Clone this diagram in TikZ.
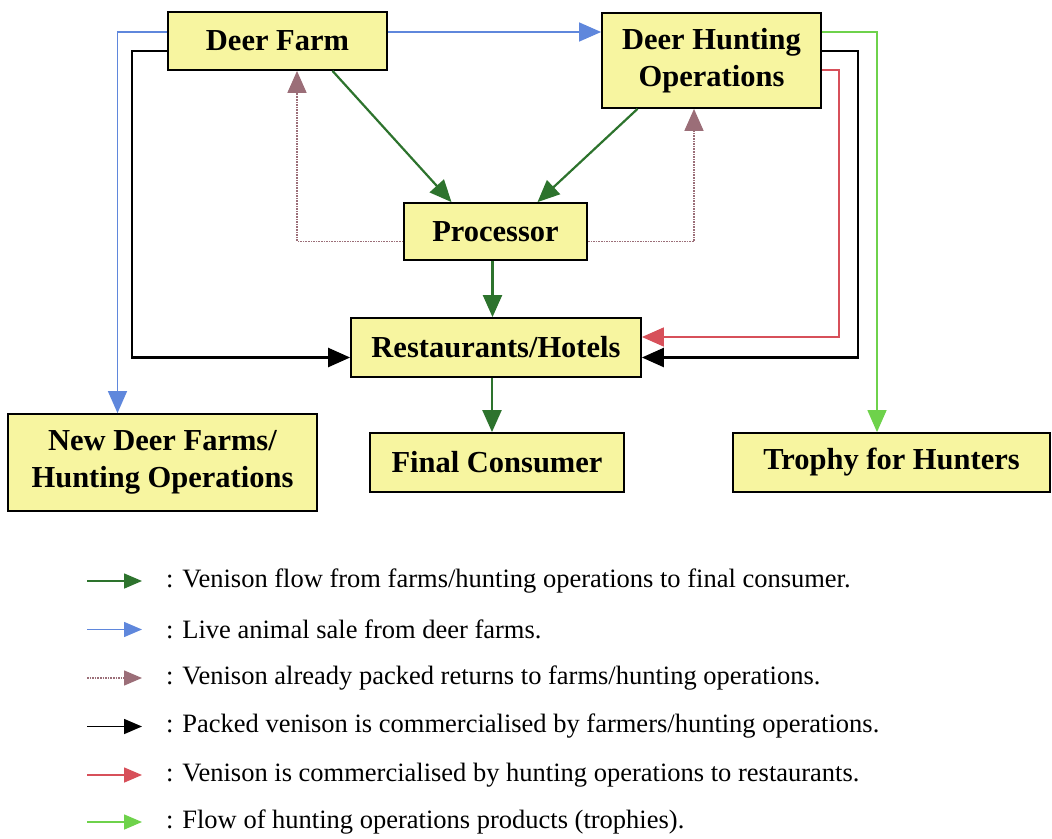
\documentclass[tikz,border=0pt]{standalone}
\usepackage{fontspec}
\setmainfont{Liberation Serif}
\usetikzlibrary{arrows.meta}

\definecolor{boxyellow}{RGB}{247,245,160}
\definecolor{meatgreen}{RGB}{45,115,45}
\definecolor{liveblue}{RGB}{95,135,220}
\definecolor{returnmauve}{RGB}{155,110,120}
\definecolor{salered}{RGB}{215,80,90}
\definecolor{trophygreen}{RGB}{110,210,75}

\tikzset{
  stage/.style={draw,line width=1.8pt,fill=boxyellow,align=center,inner sep=0pt,
    font=\fontsize{30.5}{37}\selectfont\bfseries},
  venison/.style={->,meatgreen,line width=2.2pt},
  live/.style={->,liveblue,line width=1.4pt},
  packback/.style={->,returnmauve,line width=1.6pt,densely dotted},
  packed/.style={->,black,line width=2.4pt},
  torest/.style={->,salered,line width=1.6pt},
  trophy/.style={->,trophygreen,line width=1.4pt},
  legend/.style={anchor=west,inner sep=0pt,font=\fontsize{26.5}{30}\selectfont},
}

\begin{document}
\begin{tikzpicture}[x=1pt,y=-1pt,>={Triangle[length=22pt,width=19pt]},line cap=butt]
\useasboundingbox (0,0) rectangle (1052,838);

% the chain
\node[stage,minimum width=219pt,minimum height=58pt] (farm) at (277.5,41) {Deer Farm};
\node[stage,minimum width=219pt,minimum height=95pt] (hunt) at (711.5,60.5) {Deer Hunting\\Operations};
\node[stage,minimum width=183pt,minimum height=57pt] (proc) at (495.5,231.5) {Processor};
\node[stage,minimum width=290pt,minimum height=59pt] (rest) at (496,347.5) {Restaurants/Hotels};
\node[stage,minimum width=309pt,minimum height=97pt] (newfarm) at (162.5,462.5) {New Deer Farms/\\Hunting Operations};
\node[stage,minimum width=254pt,minimum height=59pt] (final) at (497,462.5) {Final Consumer};
\node[stage,minimum width=317pt,minimum height=59pt] (hunters) at (891.5,462.5) {Trophy for Hunters};

% live animals
\draw[live] ([yshift=9pt]farm.west) -| ([xshift=-45pt]newfarm.north);
\draw[live] ([yshift=9pt]farm.east) -- ([yshift=9pt]farm.east -| hunt.west);

% meat to the processor and on
\draw[venison] ([xshift=55pt]farm.south) -- ([xshift=-44pt]proc.north);
\draw[venison] ([xshift=-74pt]hunt.south) -- ([xshift=42pt]proc.north);
\draw[venison] ([xshift=-3pt]proc.south) -- ([xshift=-3pt]proc.south |- rest.north);
\draw[venison] ([xshift=-4pt]rest.south) -- ([xshift=-4pt]rest.south |- final.north);

% packed venison back to the owners
\draw[packback] ([yshift=-10pt]proc.west) -| ([xshift=19.5pt]farm.south);
\draw[packback] ([yshift=-10pt]proc.east) -| ([xshift=-17.5pt]hunt.south);

% packed venison sold on
\draw[packed] ([yshift=-10pt]farm.west) -- ++(-35pt,0) |- ([yshift=-10pt]rest.west);
\draw[packed] ([yshift=9.5pt]hunt.east) -- ++(36pt,0) |- ([yshift=-10pt]rest.east);
\draw[torest] ([yshift=-9.5pt]hunt.east) -- ++(17pt,0) |- ([yshift=10.5pt]rest.east);

% trophies
\draw[trophy] ([yshift=28.5pt]hunt.east) -| ([xshift=-14.5pt]hunters.north);

% legend
\begin{scope}[>={Triangle[length=18pt,width=15pt]}]
\node[legend] (l1) at (166,581) {: Venison flow from farms/hunting operations to final consumer.};
\node[legend] (l2) at (166,629.5) {: Live animal sale from deer farms.};
\node[legend] (l3) at (166,678) {: Venison already packed returns to farms/hunting operations.};
\node[legend] (l4) at (166,726.5) {: Packed venison is commercialised by farmers/hunting operations.};
\node[legend] (l5) at (166,775) {: Venison is commercialised by hunting operations to restaurants.};
\node[legend] (l6) at (166,822) {: Flow of hunting operations products (trophies).};
\draw[venison,line width=1.6pt] ([xshift=-79pt]l1.west) -- ([xshift=-24pt]l1.west);
\draw[live] ([xshift=-79pt]l2.west) -- ([xshift=-24pt]l2.west);
\draw[packback,line width=1.4pt] ([xshift=-79pt]l3.west) -- ([xshift=-24pt]l3.west);
\draw[packed,line width=1.6pt] ([xshift=-79pt]l4.west) -- ([xshift=-24pt]l4.west);
\draw[torest] ([xshift=-79pt]l5.west) -- ([xshift=-24pt]l5.west);
\draw[trophy,line width=1.6pt] ([xshift=-79pt]l6.west) -- ([xshift=-24pt]l6.west);
\end{scope}
\end{tikzpicture}
\end{document}
